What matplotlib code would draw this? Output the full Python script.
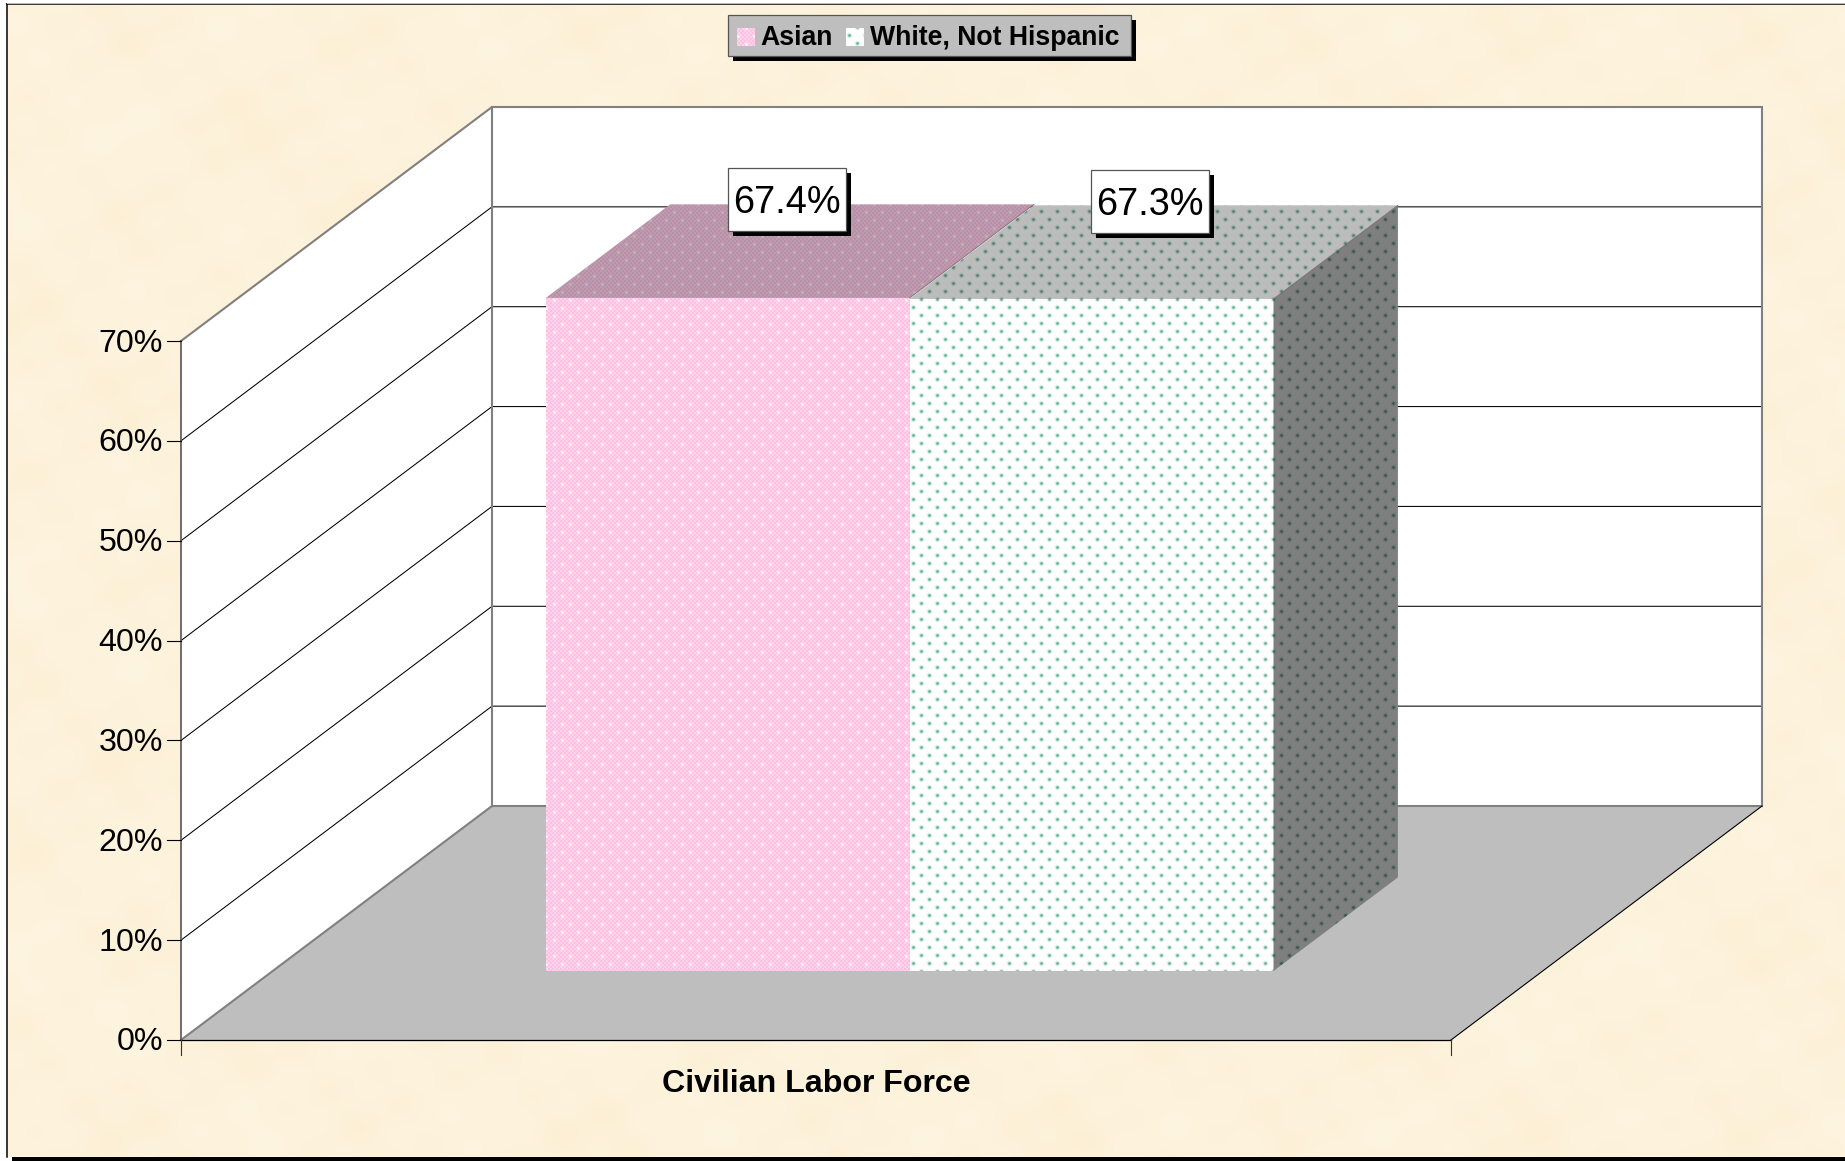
#!/usr/bin/env python3
import numpy as np
import matplotlib
matplotlib.use("Agg")
import matplotlib.pyplot as plt
from matplotlib.patches import Polygon, Rectangle

W, H = 1845, 1161

categories = ["Civilian Labor Force"]
series_names = ["Asian", "White, Not Hispanic"]
series_values = [67.4, 67.3]
y_ticks = [0, 10, 20, 30, 40, 50, 60, 70]

plt.rcParams["font.family"] = ["Liberation Sans", "DejaVu Sans"]

# 3D box geometry, in pixels
X0, X1 = 181, 1451
Y0, Y70 = 1040, 341
DX, DY = 311, -234
YMAX = 70

# bar placement along the category and depth axes
BAR_START = 0.215
BAR_WIDTH = 0.2865
D0, D1 = 0.295, 0.695


def project(xf, val, depth):
    """Category fraction, value in percent, depth fraction -> pixel position."""
    x = X0 + (X1 - X0) * xf + DX * depth
    y = Y0 + (Y70 - Y0) * val / YMAX + DY * depth
    return (x, y)


def parchment():
    yy, xx = np.mgrid[0:H, 0:W]
    n = (np.sin(xx / 37.0 + 1.3) * np.sin(yy / 29.0 + 0.4)
         + 0.7 * np.sin(xx / 13.0 + yy / 41.0) * np.sin(yy / 11.0 - xx / 53.0)
         + 0.5 * np.sin(xx / 83.0 - 2.0) * np.cos(yy / 67.0 + 1.0))
    img = np.zeros((H, W, 3))
    img[..., 0] = 253 + n * 0.5
    img[..., 1] = 242 + n * 1.5
    img[..., 2] = 219 + n * 3
    return np.clip(img, 0, 255) / 255


def dots(phase, spread):
    yy, xx = np.mgrid[0:H, 0:W]
    out = np.zeros((H, W))
    for px, py in [phase, (phase[0] + 8, phase[1] + 8)]:
        dx = (xx - px + 8) % 16 - 8
        dy = (yy - py + 8) % 16 - 8
        out = np.maximum(out, np.exp(-(dx ** 2 + dy ** 2) / spread))
    return out[..., None]


pink_dots = dots((2, 4), 2.2)
green_dots = dots((1, 3), 2.8) * 0.85
yy_, xx_ = np.mgrid[0:H, 0:W]
check = (((xx_ // 2) + (yy_ // 2)) % 2)[..., None]
pink_base = check * np.array([1.0, 0.83, 0.93]) + (1 - check) * np.array([1.0, 0.75, 0.88])
pink_img = pink_base * (1 - pink_dots) + pink_dots * np.array([1.0, 1.0, 1.0])
white_img = (1 - green_dots) * np.array([1.0, 1.0, 1.0]) + green_dots * np.array([0.18, 0.60, 0.43])
pattern_imgs = [pink_img, white_img]

fig = plt.figure(figsize=(W / 100, H / 100), dpi=100, facecolor="white")
ax = fig.add_axes([0, 0, 1, 1])
ax.set_xlim(0, W)
ax.set_ylim(H, 0)
ax.axis("off")


def clipped(img, pts, zorder):
    im = ax.imshow(img, extent=(0, W, H, 0), interpolation="nearest", aspect="auto", zorder=zorder)
    im.set_clip_path(Polygon(pts, closed=True, transform=ax.transData))


# outer chart frame
clipped(parchment(), [(8, 5), (W, 5), (W, 1157), (8, 1157)], 1)
ax.plot([7, 7], [4, 1157], color="black", lw=1.1, zorder=2)
ax.plot([7, W], [4, 4], color="black", lw=1.1, zorder=2)
ax.plot([7, W], [3, 3], color="#c0c0c0", lw=0.7, zorder=2)
ax.add_patch(Rectangle((12, 1157), W - 12, 4, color="black", lw=0, zorder=2))

# floor and walls
ax.add_patch(Polygon([project(0, 0, 0), project(1, 0, 0), project(1, 0, 1), project(0, 0, 1)],
                     fc="#bebebe", ec="none", zorder=3))
ax.add_patch(Polygon([project(0, 0, 0), project(0, YMAX, 0), project(0, YMAX, 1), project(0, 0, 1)],
                     fc="white", ec="none", zorder=3))
ax.add_patch(Polygon([project(0, 0, 1), project(0, YMAX, 1), project(1, YMAX, 1), project(1, 0, 1)],
                     fc="white", ec="none", zorder=3))

# gridlines on both walls
for t in y_ticks[1:-1]:
    pts = [project(0, t, 0), project(0, t, 1), project(1, t, 1)]
    ax.plot(*zip(*pts), color="black", lw=0.75, zorder=4)

# wall and floor edges
edge = "#808080"
for pts in ([project(0, YMAX, 0), project(0, YMAX, 1), project(1, YMAX, 1), project(1, 0, 1)],
            [project(0, 0, 1), project(0, YMAX, 1)],
            [project(0, 0, 0), project(0, 0, 1), project(1, 0, 1)]):
    ax.plot(*zip(*pts), color=edge, lw=1.5, zorder=5, solid_joinstyle="miter")
ax.plot(*zip(project(1, 0, 0), project(1, 0, 1)), color="black", lw=0.8, zorder=5)
ax.plot(*zip(project(0, 0, 0), project(1, 0, 0)), color="black", lw=0.9, zorder=5)

# axis line and ticks
ax.plot(*zip(project(0, 0, 0), project(0, YMAX, 0)), color="#555555", lw=1.2, zorder=5)
for t in y_ticks:
    x, y = project(0, t, 0)
    ax.plot([x - 14, x], [y, y], color="black", lw=0.8, zorder=5)
    ax.text(x - 18, y + 2.5, f"{t}%", ha="right", va="center", fontsize=23.2, color="black", zorder=6)
for xf in [0, 1]:
    x, y = project(xf, 0, 0)
    ax.plot([x, x], [y, y + 15], color="#333333", lw=0.8, zorder=5)
x_mid, y_mid = project(0.5, 0, 0)
ax.text(x_mid, y_mid + 44, categories[0], ha="center", va="center", fontsize=23.1,
        fontweight="bold", color="black", zorder=6)

# bars: front, then top and side with shading
for i, (val, img) in enumerate(zip(series_values, pattern_imgs)):
    xa = BAR_START + i * BAR_WIDTH
    xb = xa + BAR_WIDTH
    top = [project(xa, val, D0), project(xb, val, D0), project(xb, val, D1), project(xa, val, D1)]
    clipped(img * 0.74, top, 7 + i)
    front = [project(xa, 0, D0), project(xb, 0, D0), project(xb, val, D0), project(xa, val, D0)]
    clipped(img, front, 9)
    ax.plot(*zip(top[1], top[2]), color="#7a6a72", lw=0.6, zorder=10)
    if i == len(series_values) - 1:
        side = [project(xb, 0, D0), project(xb, 0, D1), project(xb, val, D1), project(xb, val, D0)]
        clipped(img * 0.5, side, 9)


def box(x, y, w, h, fc):
    ax.add_patch(Rectangle((x + 5, y + 5), w, h, fc="black", ec="none", zorder=11))
    ax.add_patch(Rectangle((x, y), w, h, fc=fc, ec="#555555", lw=0.9, zorder=12))


# value labels
label_x = [787, 1150]
for val, cx in zip(series_values, label_x):
    _, top_y = project(0, val, D1)
    cy = top_y - 4 + (67.4 - val) * 10
    box(cx - 59, cy - 32, 118, 63, "white")
    ax.text(cx, cy + 2.5, f"{val}%", ha="center", va="center", fontsize=27.3, color="black", zorder=13)

# legend
box(728, 15, 403, 41, "#bebebe")
swatch_x = [737, 846]
text_x = [760, 870]
for name, img, sx, tx in zip(series_names, pattern_imgs, swatch_x, text_x):
    clipped(img, [(sx, 28), (sx + 18, 28), (sx + 18, 46), (sx, 46)], 13)
    ax.text(tx, 38, name, ha="left", va="center", fontsize=19.15, fontweight="bold",
            color="black", zorder=13)

fig.savefig("out.png", dpi=100)
